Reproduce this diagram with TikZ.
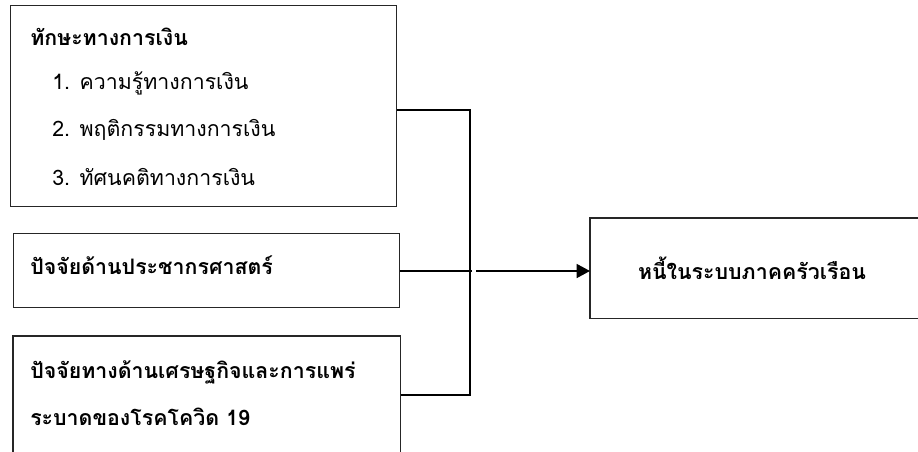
\documentclass[tikz,border=0pt]{standalone}
\usepackage{fontspec}
\newfontfamily\thaifont[Script=Thai]{Loma}
\usetikzlibrary{arrows.meta}
\begin{document}
\begin{tikzpicture}[x=0.75pt,y=-0.75pt,
  boxline/.style={draw=black!85,line width=0.8pt},
  conn/.style={draw=black,line width=1.1pt},
  txt/.style={anchor=west,inner sep=0pt,font=\thaifont\fontsize{16}{19}\selectfont},
  btxt/.style={txt,font=\thaifont\bfseries\fontsize{16}{19}\selectfont}]
\useasboundingbox (0,0) rectangle (918,451);
% boxes
\node[boxline,rectangle,minimum width=386*0.75pt,minimum height=201*0.75pt,inner sep=0pt,anchor=north west] (b1) at (10,5) {};
\node[boxline,rectangle,minimum width=386*0.75pt,minimum height=74*0.75pt,inner sep=0pt,anchor=north west] (b2) at (13,233) {};
\node[rectangle,minimum width=387*0.75pt,minimum height=125*0.75pt,inner sep=0pt,anchor=north west] (b3) at (13,336) {};
\draw[boxline] (b3.south west) -- (b3.north west) -- (b3.north east) -- (b3.south east);
\node[rectangle,minimum width=400*0.75pt,minimum height=100*0.75pt,inner sep=0pt,anchor=north west] (b4) at (590,218) {};
\draw[boxline] (b4.north east) -- (b4.north west) -- (b4.south west) -- (b4.south east);
% texts
\node[btxt] (t1) at (30,37) {ทักษะทางการเงิน};
\node[txt] (t2) at (52,83) {1. ความรู้ทางการเงิน};
\node[txt] (t3) at (52,130) {2. พฤติกรรมทางการเงิน};
\node[txt] (t4) at (52,177) {3. ทัศนคติทางการเงิน};
\node[btxt] (t5) at (30,265) {ปัจจัยด้านประชากรศาสตร์};
\node[btxt] (t6) at (30,372) {ปัจจัยทางด้านเศรษฐกิจและการแพร่};
\node[btxt] (t7) at (30,417) {ระบาดของโรคโควิด 19};
\node[btxt,anchor=center] (t8) at (752,268) {หนี้ในระบบภาคครัวเรือน};
% connectors
\coordinate (j1) at (470,110);
\coordinate (j3) at (470,395);
\coordinate (j2) at (472,271);
\coordinate (a0) at (476,271);
\draw[conn] (b1.east |- j1) -- (j1) -- (j3) -- (b3.east |- j3);
\draw[conn] (b2.east |- j2) -- (j2);
\draw[conn,-{Triangle[length=10pt,width=10.5pt]}] (a0) -- (b4.west |- a0);
\end{tikzpicture}
\end{document}
